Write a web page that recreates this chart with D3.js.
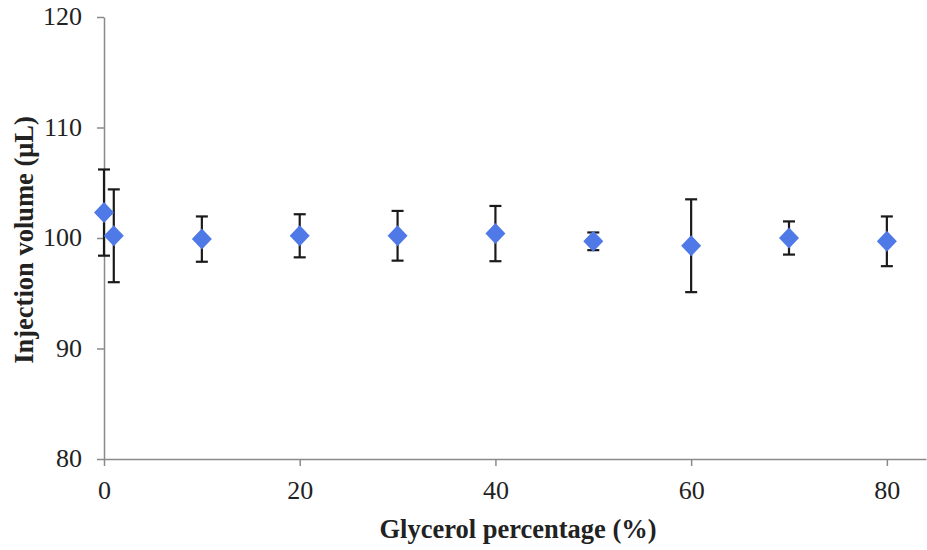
<!DOCTYPE html>
<html lang="en">
<head>
<meta charset="UTF-8">
<title>Injection volume</title>
<script src="https://d3js.org/d3.v7.min.js"></script>
<style>
  body { margin: 0; background: #fff; }
  text { font-family: "Liberation Serif", "Times New Roman", serif; fill: #222; }
  .axis path, .axis line { stroke: #8a8a8a; stroke-width: 1.5; }
</style>
</head>
<body>
<div id="chart"></div>
<script>
const glycerol = [0, 1, 10, 20, 30, 40, 50, 60, 70, 80];
const volume = [102.3, 100.2, 99.9, 100.2, 100.2, 100.4, 99.7, 99.3, 100.0, 99.7];
const errors = [3.9, 4.2, 2.05, 1.95, 2.25, 2.5, 0.8, 4.2, 1.5, 2.25];
const xTicks = [0, 20, 40, 60, 80];
const yTicks = [80, 90, 100, 110, 120];

const width = 927, height = 550;
const svg = d3.select("#chart").append("svg")
    .attr("width", width).attr("height", height);

const x = d3.scaleLinear().domain([0, 84]).range([104, 926]);
const y = d3.scaleLinear().domain([80, 120]).range([459, 17]);

// axes
const xAxis = svg.append("g").attr("class", "axis")
    .attr("transform", "translate(0," + y(80) + ")")
    .call(d3.axisBottom(x).tickValues(xTicks).tickSize(7).tickSizeOuter(0).tickPadding(15));
xAxis.selectAll("text").attr("font-size", "26px").attr("fill", "#222")
    .attr("font-family", "Liberation Serif");

const yAxis = svg.append("g").attr("class", "axis")
    .attr("transform", "translate(" + x(0) + ",0)")
    .call(d3.axisLeft(y).tickValues(yTicks).tickSize(7).tickSizeOuter(0).tickPadding(15));
yAxis.selectAll("text").attr("font-size", "26px").attr("fill", "#222")
    .attr("font-family", "Liberation Serif").attr("dy", "0.3em");

// error bars
const data = glycerol.map((g, i) => ({g: g, v: volume[i], e: errors[i]}));
const eb = svg.append("g").attr("stroke", "#1a1a1a").attr("stroke-width", 2.2);
data.forEach(d => {
    eb.append("line").attr("x1", x(d.g)).attr("x2", x(d.g))
        .attr("y1", y(d.v + d.e)).attr("y2", y(d.v - d.e));
    [d.v + d.e, d.v - d.e].forEach(v => {
        eb.append("line").attr("x1", x(d.g) - 6).attr("x2", x(d.g) + 6)
            .attr("y1", y(v)).attr("y2", y(v));
    });
});

// markers
svg.append("g").selectAll("path").data(data).enter().append("path")
    .attr("d", "M0,-10.5L10,0L0,10.5L-10,0Z")
    .attr("transform", d => "translate(" + x(d.g) + "," + y(d.v) + ")")
    .attr("fill", "#5079e8");

// titles
svg.append("text")
    .attr("x", 518).attr("y", 538)
    .attr("text-anchor", "middle")
    .attr("font-size", "26.5px").attr("font-weight", "bold")
    .text("Glycerol percentage (%)");

svg.append("text")
    .attr("transform", "translate(33,240) rotate(-90)")
    .attr("text-anchor", "middle")
    .attr("font-size", "26.5px").attr("font-weight", "bold")
    .text("Injection volume (μL)");
</script>
</body>
</html>
